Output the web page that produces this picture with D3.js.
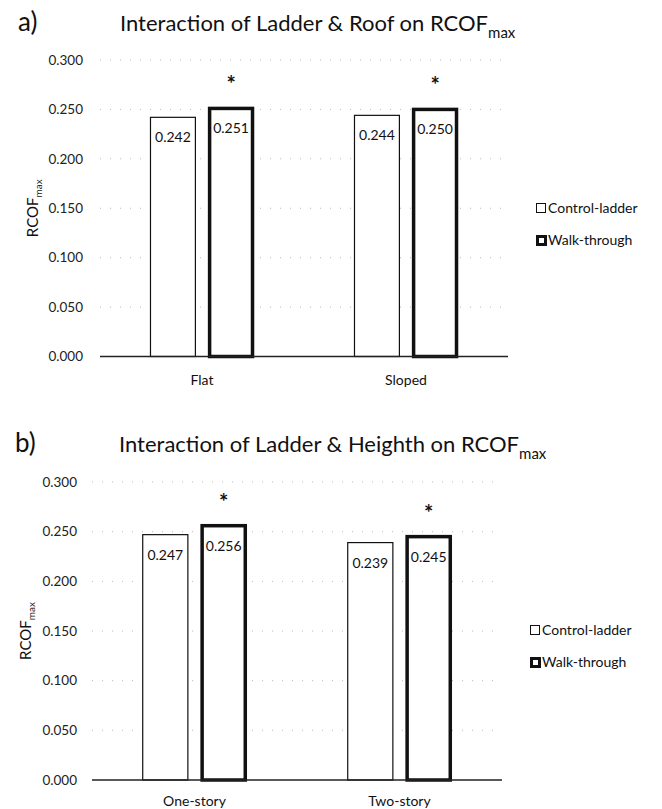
<!DOCTYPE html>
<html>
<head>
<meta charset="utf-8">
<script src="https://cdn.jsdelivr.net/npm/d3@7/dist/d3.min.js"></script>
<style>
  html, body { margin: 0; padding: 0; background: #fff; }
  svg { display: block; font-family: Lato, "Open Sans", sans-serif; }
</style>
</head>
<body>
<div id="chart"></div>
<script>
// data
const series = ["Control-ladder", "Walk-through"];
const roofCats = ["Flat", "Sloped"];
const roofControl = [0.242, 0.244];
const roofWalk = [0.251, 0.250];
const heightCats = ["One-story", "Two-story"];
const heightControl = [0.247, 0.239];
const heightWalk = [0.256, 0.245];
const yTicks = [0, 0.05, 0.10, 0.15, 0.20, 0.25, 0.30];
const starred = ["Walk-through"];

const width = 662, height = 809;
const svg = d3.select("#chart").append("svg")
  .attr("width", width)
  .attr("height", height);

function drawPanel(p) {
  const g = svg.append("g");

  const data = p.cats.map((c, i) => ({
    cat: c,
    vals: [{ s: series[0], v: p.control[i] }, { s: series[1], v: p.walk[i] }]
  }));

  const x0 = d3.scaleBand().domain(p.cats).range([p.left, p.right]);
  const x1 = d3.scaleBand().domain(series)
    .range([0, x0.bandwidth()])
    .paddingInner(0.21)
    .paddingOuter(0.86);
  const y = d3.scaleLinear().domain([0, 0.3]).range([p.bottom, p.top]);

  // panel letter + title
  g.append("text")
    .attr("x", p.letterX).attr("y", p.titleY)
    .attr("font-size", 26).attr("fill", "#111")
    .text(p.letter);
  const t = g.append("text")
    .attr("x", p.titleX).attr("y", p.titleY)
    .attr("font-size", 22).attr("fill", "#111");
  t.append("tspan").text(p.title);
  t.append("tspan").attr("font-size", 15).attr("dy", 7).text("max");

  // faint gridlines
  g.selectAll(".grid").data(yTicks.slice(1)).enter().append("line")
    .attr("x1", p.left).attr("x2", p.right)
    .attr("y1", d => y(d)).attr("y2", d => y(d))
    .attr("stroke", "#bbb").attr("stroke-width", 1)
    .attr("stroke-dasharray", "1 9");

  // y axis labels
  const yAxis = g.append("g")
    .attr("transform", `translate(${p.left},0)`)
    .call(d3.axisLeft(y).tickValues(yTicks).tickFormat(d3.format(".3f")).tickSize(0).tickPadding(p.left - p.tickRight));
  yAxis.select(".domain").remove();
  yAxis.selectAll("text").attr("font-size", 13.5).attr("font-family", "Lato, sans-serif").attr("fill", "#222");

  // y title
  const yt = g.append("text")
    .attr("transform", `translate(${p.yTitleX},${(p.top + p.bottom) / 2}) rotate(-90)`)
    .attr("text-anchor", "middle")
    .attr("font-size", 15).attr("fill", "#111");
  yt.append("tspan").text("RCOF");
  yt.append("tspan").attr("font-size", 10).attr("dy", 4).text("max");

  // bars
  const grp = g.selectAll(".grp").data(data).enter().append("g")
    .attr("transform", d => `translate(${x0(d.cat)},0)`);

  grp.selectAll("rect").data(d => d.vals).enter().append("rect")
    .attr("x", d => x1(d.s) + (d.s === series[1] ? 1.5 : 0.5))
    .attr("width", d => x1.bandwidth() - (d.s === series[1] ? 3 : 1))
    .attr("y", d => y(d.v))
    .attr("height", d => y(0) - y(d.v))
    .attr("fill", "#fff")
    .attr("stroke", "#111")
    .attr("stroke-width", d => d.s === series[1] ? 3.5 : 1.2);

  grp.selectAll(".val").data(d => d.vals).enter().append("text")
    .attr("x", d => x1(d.s) + x1.bandwidth() / 2)
    .attr("y", d => y(d.v) + 25)
    .attr("text-anchor", "middle")
    .attr("font-size", 14).attr("fill", "#111")
    .text(d => d3.format(".3f")(d.v));

  grp.selectAll(".star").data(d => d.vals.filter(v => starred.includes(v.s))).enter().append("text")
    .attr("x", d => x1(d.s) + x1.bandwidth() / 2)
    .attr("y", d => y(d.v) - 16)
    .attr("text-anchor", "middle")
    .attr("font-size", 22).attr("font-weight", "bold").attr("fill", "#111")
    .text("*");

  // baseline
  g.append("line")
    .attr("x1", p.left).attr("x2", p.right)
    .attr("y1", y(0)).attr("y2", y(0))
    .attr("stroke", "#222").attr("stroke-width", 1.5);

  // category labels
  g.selectAll(".cat").data(p.cats).enter().append("text")
    .attr("x", d => x0(d) + x0.bandwidth() / 2)
    .attr("y", p.catY)
    .attr("text-anchor", "middle")
    .attr("font-size", 14).attr("fill", "#111")
    .text(d => d);

  // legend
  const lg = g.selectAll(".leg").data(series).enter().append("g")
    .attr("transform", (d, i) => `translate(${p.legX},${p.legY + i * 32})`);
  lg.append("rect")
    .attr("x", d => d === series[1] ? 1.5 : 0.5)
    .attr("y", d => d === series[1] ? -3.5 : -4.5)
    .attr("width", d => d === series[1] ? 8 : 9)
    .attr("height", d => d === series[1] ? 8 : 9)
    .attr("fill", "#fff").attr("stroke", "#111")
    .attr("stroke-width", d => d === series[1] ? 3 : 1);
  lg.append("text")
    .attr("x", 12).attr("y", 5)
    .attr("font-size", 14).attr("fill", "#111")
    .text(d => d);
}

drawPanel({
  letter: "a)", letterX: 18, titleX: 120, titleY: 31,
  title: "Interaction of Ladder & Roof on RCOF",
  cats: roofCats, control: roofControl, walk: roofWalk,
  left: 100, right: 508, top: 60, bottom: 356.5, tickRight: 83,
  yTitleX: 38, catY: 385, legX: 536, legY: 208
});

drawPanel({
  letter: "b)", letterX: 15, titleX: 119, titleY: 452,
  title: "Interaction of Ladder & Heighth on RCOF",
  cats: heightCats, control: heightControl, walk: heightWalk,
  left: 92, right: 502, top: 482, bottom: 780, tickRight: 77,
  yTitleX: 31, catY: 806, legX: 530, legY: 630
});
</script>
</body>
</html>
